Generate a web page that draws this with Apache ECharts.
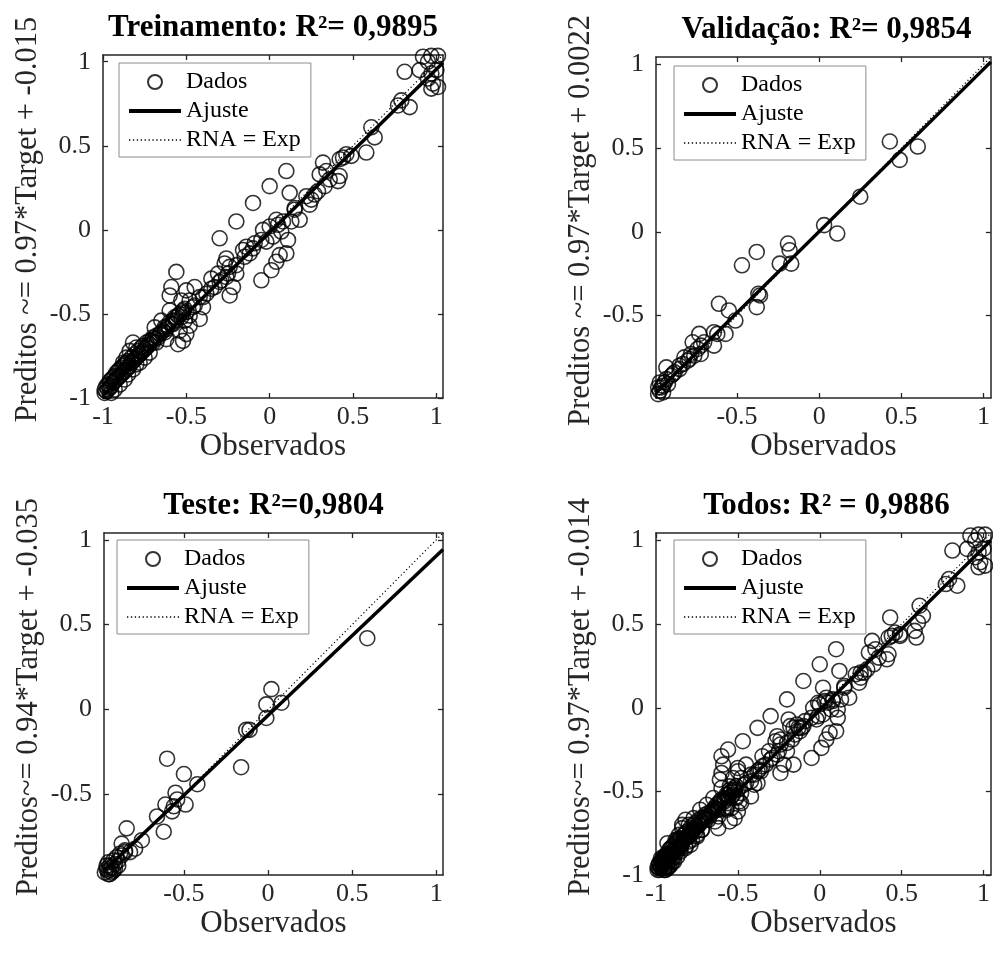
<!DOCTYPE html>
<html><head><meta charset="utf-8">
<script src="https://cdn.jsdelivr.net/npm/echarts@6/dist/echarts.min.js"></script>
<style>html,body{margin:0;padding:0;background:#fff}#c{width:993px;height:956px}</style>
</head><body><div id="c"></div>
<script>
// ---------- data ----------
const trainPoints = [
  [0.81,0.94],[0.90,0.95],[0.95,1.0],[0.92,1.03],[0.97,1.035],[1.01,1.035],[0.97,0.93],[1.0,0.95],[0.95,0.90],[0.98,0.87],[1.01,0.85],[0.97,0.84],
  [0.79,0.77],[0.84,0.73],[0.77,0.74],[0.61,0.61],[0.63,0.55],[0.58,0.46],[0.46,0.45],[0.44,0.43],[0.49,0.44],[0.42,0.42],
  [0.32,0.40],[0.30,0.33],[0.34,0.35],[0.36,0.30],[0.41,0.29],[0.42,0.32],[0.33,0.26],[0.29,0.23],[0.25,0.18],[0.24,0.15],[0.22,0.20],[0.27,0.21],
  [0.10,0.35],[0.0,0.26],[0.12,0.22],[-0.10,0.16],[-0.20,0.05],[0.15,0.12],[0.18,0.06],[0.13,0.05],[0.08,0.05],[0.04,0.06],[0.0,0.02],[-0.04,0.0],
  [0.02,-0.04],[0.07,-0.01],[0.11,-0.06],[-0.02,-0.07],
  [0.10,-0.14],[0.06,-0.15],[0.04,-0.19],[0.01,-0.24],[-0.05,-0.30],[-0.14,-0.10],[-0.12,-0.14],[-0.16,-0.12],[-0.09,-0.08],
  [-0.30,-0.05],[-0.26,-0.17],[-0.27,-0.20],[-0.24,-0.22],[-0.31,-0.26],[-0.29,-0.30],[-0.26,-0.28],[-0.22,-0.34],[-0.24,-0.39],
  [-0.35,-0.29],[-0.33,-0.34],[-0.38,-0.38],[-0.20,-0.26],
  [-0.56,-0.25],[-0.59,-0.34],[-0.60,-0.39],[-0.53,-0.42],[-0.50,-0.36],[-0.45,-0.34],[-0.48,-0.42],[-0.42,-0.40],[-0.46,-0.46],[-0.52,-0.48],
  [-0.60,-0.48],[-0.56,-0.52],[-0.51,-0.54],[-0.48,-0.51],[-0.40,-0.46],[-0.42,-0.53],[-0.54,-0.60],[-0.50,-0.62],[-0.48,-0.57],[-0.58,-0.56],
  [-0.52,-0.66],[-0.55,-0.68],
  [-0.69,-0.58],[-0.65,-0.54],[-0.63,-0.61],[-0.70,-0.64],[-0.72,-0.66],[-0.68,-0.67],[-0.62,-0.65],
  [-0.82,-0.67],[-0.84,-0.72],[-0.80,-0.70],[-0.76,-0.69],[-0.78,-0.74],[-0.86,-0.76],[-0.88,-0.79],
  [-0.99,-0.97],[-0.99,-0.95],[-0.98,-0.96],[-0.98,-0.93],[-0.97,-0.95],[-0.97,-0.92],[-0.96,-0.94],[-0.96,-0.90],[-0.95,-0.93],[-0.95,-0.89],
  [-0.94,-0.91],[-0.94,-0.88],[-0.93,-0.90],[-0.93,-0.87],[-0.92,-0.89],[-0.92,-0.85],[-0.91,-0.88],[-0.91,-0.84],[-0.90,-0.87],[-0.90,-0.83],
  [-0.89,-0.86],[-0.89,-0.82],[-0.88,-0.85],[-0.88,-0.81],[-0.87,-0.84],[-0.87,-0.80],[-0.86,-0.83],[-0.86,-0.79],[-0.85,-0.82],[-0.85,-0.78],
  [-0.84,-0.81],[-0.83,-0.79],[-0.83,-0.76],[-0.82,-0.78],[-0.81,-0.77],[-0.81,-0.74],[-0.80,-0.76],[-0.79,-0.75],[-0.79,-0.72],[-0.78,-0.74],
  [-0.77,-0.73],[-0.77,-0.70],[-0.76,-0.72],[-0.75,-0.71],[-0.74,-0.70],[-0.74,-0.67],[-0.73,-0.69],[-0.72,-0.68],[-0.71,-0.66],[-0.70,-0.67],
  [-0.69,-0.65],[-0.68,-0.63],[-0.67,-0.64],[-0.66,-0.62],[-0.65,-0.61],[-0.64,-0.60],[-0.63,-0.58],[-0.62,-0.59],[-0.61,-0.57],[-0.60,-0.55],
  [-0.59,-0.56],[-0.58,-0.54],[-0.57,-0.52],[-0.56,-0.54],[-0.55,-0.51],[-0.54,-0.50],[-0.53,-0.52],[-0.52,-0.49],[-0.51,-0.47],[-0.50,-0.49],
  [-0.95,-0.97],[-0.93,-0.95],[-0.90,-0.92],[-0.87,-0.89],[-0.85,-0.86],[-0.82,-0.83],[-0.80,-0.80],[-0.78,-0.79],[-0.75,-0.76],[-0.72,-0.73],
  [-0.45,-0.45],[-0.40,-0.40],[-0.35,-0.35],[-0.30,-0.31],[-0.25,-0.26],[-0.20,-0.21],[-0.15,-0.16],[-0.10,-0.11],[-0.05,-0.06],[0.05,0.03],[0.15,0.13]
];
const valPoints = [
  [0.43,0.54],[0.49,0.43],[0.60,0.51],[0.25,0.21],[0.03,0.04],[0.11,-0.01],[-0.19,-0.07],[-0.18,-0.11],[-0.17,-0.19],[-0.24,-0.19],
  [-0.38,-0.12],[-0.47,-0.20],[-0.37,-0.37],[-0.38,-0.45],[-0.36,-0.38],[-0.61,-0.43],[-0.55,-0.47],[-0.51,-0.53],[-0.73,-0.61],[-0.77,-0.66],
  [-0.64,-0.60],[-0.57,-0.61],[-0.64,-0.68],[-0.72,-0.73],[-0.82,-0.75],[-0.79,-0.76],[-0.85,-0.80],[-0.93,-0.81],[-0.89,-0.85],[-0.97,-0.90],
  [-0.98,-0.93],[-0.98,-0.97],[-0.97,-0.95],[-0.96,-0.93],[-0.95,-0.92],[-0.94,-0.90],[-0.93,-0.88],[-0.92,-0.91],[-0.95,-0.96],[-0.90,-0.86],
  [-0.88,-0.84],[-0.85,-0.82],[-0.83,-0.79],[-0.80,-0.77],[-0.78,-0.73],[-0.76,-0.74],[-0.74,-0.70],[-0.72,-0.68],[-0.70,-0.66],[-0.62,-0.61]
];
const testPoints = [
  [0.59,0.42],[0.02,0.12],[-0.01,0.03],[0.08,0.04],[-0.01,-0.05],[-0.13,-0.12],[-0.11,-0.12],[-0.16,-0.34],[-0.60,-0.29],[-0.50,-0.38],
  [-0.42,-0.44],[-0.55,-0.49],[-0.54,-0.53],[-0.49,-0.56],[-0.56,-0.57],[-0.61,-0.56],[-0.57,-0.60],[-0.66,-0.63],[-0.62,-0.72],[-0.84,-0.70],
  [-0.75,-0.77],[-0.79,-0.82],[-0.82,-0.84],[-0.87,-0.79],[-0.85,-0.84],[-0.97,-0.96],[-0.96,-0.94],[-0.95,-0.95],[-0.94,-0.92],[-0.95,-0.90],
  [-0.93,-0.93],[-0.92,-0.89],[-0.91,-0.91],[-0.96,-0.92],[-0.94,-0.97],[-0.92,-0.95],[-0.90,-0.87],[-0.89,-0.89],[-0.88,-0.85],[-0.87,-0.86],
  [-0.85,-0.83],[-0.95,-0.97],[-0.93,-0.96],[-0.91,-0.94],[-0.89,-0.92]
];
const allPoints = trainPoints.concat(valPoints, testPoints);

const titles = ['Treinamento: R²= 0,9895', 'Validação: R²= 0,9854', 'Teste: R²=0,9804', 'Todos: R² = 0,9886'];
const yNames = ['Preditos ~= 0.97*Target + -0.015', 'Preditos ~= 0.97*Target + 0.0022', 'Preditos~= 0.94*Target + -0.035', 'Preditos~= 0.97*Target + -0.014'];
const xName = 'Observados';
const fitSlope = [0.97, 0.97, 0.94, 0.97];
const fitIntercept = [-0.015, 0.0022, -0.035, -0.014];
const axisLimits = [[-1.0, 1.04], [-0.993, 1.045], [-0.975, 1.04], [-1.0, 1.045]];
const tickValues = [[-1, -0.5, 0, 0.5, 1], [-0.5, 0, 0.5, 1], [-0.5, 0, 0.5, 1], [-1, -0.5, 0, 0.5, 1]];
const legendNames = ['Dados', 'Ajuste', 'RNA = Exp'];

// ---------- layout / style ----------
const FONT = 'Liberation Serif';
const AX = '#262626';
const grids = [
  {left: 103, top: 55, width: 340, height: 343},
  {left: 656, top: 57, width: 341, height: 341},
  {left: 104, top: 533, width: 339, height: 342},
  {left: 656, top: 533, width: 341, height: 342}
];
const legendPos = [[119, 63], [674, 66], [117, 540], [674, 540]];
const panels = [trainPoints, valPoints, testPoints, allPoints];

const option = {backgroundColor: '#fff', animation: false, grid: [], xAxis: [], yAxis: [], series: [], title: [], legend: []};
const fmt = v => String(Math.round(v * 10) / 10);

panels.forEach((pts, i) => {
  const g = grids[i];
  const [lo, hi] = axisLimits[i];
  const ticks = tickValues[i];
  option.grid.push({left: g.left, top: g.top, width: g.width, height: g.height, show: false});
  const mk = (pos, extra) => Object.assign({
    type: 'value', gridIndex: i, min: lo, max: hi, position: pos,
    splitLine: {show: false},
    axisLine: {show: true, onZero: false, lineStyle: {color: AX, width: 1.5}},
    axisTick: {show: true, inside: true, length: 5, customValues: ticks, lineStyle: {color: AX, width: 1.3}},
    axisLabel: {show: false, customValues: ticks}
  }, extra || {});
  option.xAxis.push(mk('bottom', {
    name: xName, nameLocation: 'middle', nameGap: 33,
    nameTextStyle: {color: AX, fontFamily: FONT, fontSize: 31},
    axisLabel: {show: true, customValues: ticks, color: AX, fontFamily: FONT, fontSize: 26, margin: 6, formatter: fmt}
  }));
  option.xAxis.push(mk('top'));
  option.yAxis.push(mk('left', {
    name: yNames[i], nameLocation: 'middle', nameGap: 60,
    nameTextStyle: {color: AX, fontFamily: FONT, fontSize: 30.5, padding: [0, 0, 0, 14]},
    axisLabel: {show: true, customValues: ticks, color: AX, fontFamily: FONT, fontSize: 26, margin: 12, formatter: fmt}
  }));
  option.yAxis.push(mk('right'));

  option.title.push({
    text: titles[i], left: g.left + g.width / 2, top: g.top - 43, textAlign: 'center', padding: 0,
    textStyle: {fontFamily: FONT, fontWeight: 'bold', fontSize: 31, color: '#000'}
  });

  option.legend.push({
    orient: 'vertical', left: legendPos[i][0], top: legendPos[i][1],
    data: [
      {name: legendNames[0]},
      {name: legendNames[1], itemStyle: {opacity: 0}, lineStyle: {width: 4, color: '#000'}},
      {name: legendNames[2], itemStyle: {opacity: 0}, lineStyle: {width: 1.3, color: '#000', type: [1.3, 2.6]}}
    ],
    itemWidth: 52, itemHeight: 14, itemGap: 5, itemTextGap: 8,
    padding: [7, 10, 5, 8], borderColor: '#8c8c8c', borderWidth: 1, backgroundColor: '#fff',
    textStyle: {fontFamily: FONT, fontSize: 24, color: '#000'}, selectedMode: false
  });

  const xi = i * 2, yi = i * 2;
  option.series.push({
    name: legendNames[0], type: 'scatter', xAxisIndex: xi, yAxisIndex: yi, data: pts,
    symbol: 'circle', symbolSize: 15,
    itemStyle: {color: 'rgba(0,0,0,0)', borderColor: '#000', borderWidth: 1.6}, z: 2
  });
  option.series.push({
    name: legendNames[1], type: 'line', xAxisIndex: xi, yAxisIndex: yi,
    data: [[lo, fitSlope[i] * lo + fitIntercept[i]], [hi, fitSlope[i] * hi + fitIntercept[i]]],
    symbol: 'none', itemStyle: {opacity: 0}, lineStyle: {color: '#000', width: 3.5}, z: 3
  });
  option.series.push({
    name: legendNames[2], type: 'line', xAxisIndex: xi, yAxisIndex: yi,
    data: [[lo, lo], [hi, hi]],
    symbol: 'none', itemStyle: {opacity: 0}, lineStyle: {color: '#000', width: 1.2, type: [1.2, 2.6]}, z: 4
  });
});

const chart = echarts.init(document.getElementById('c'));
chart.setOption(option);
</script>
</body></html>
